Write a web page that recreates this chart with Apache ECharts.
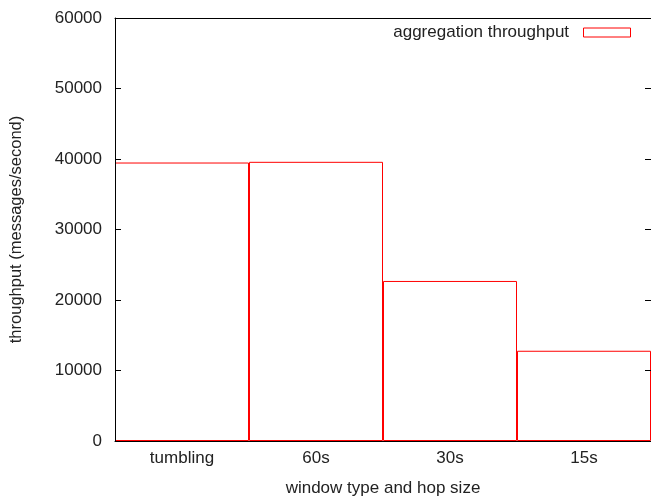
<!DOCTYPE html>
<html><head><meta charset="utf-8">
<script src="https://cdn.jsdelivr.net/npm/echarts@6/dist/echarts.min.js"></script>
<style>html,body{margin:0;padding:0;background:#fff}#c{width:651px;height:502px}</style>
</head><body><div id="c"></div>
<script>
const categories = ['tumbling', '60s', '30s', '15s'];
const throughput = [39500, 39600, 22700, 12800];
const seriesName = 'aggregation throughput';
const yTicks = [0, 10000, 20000, 30000, 40000, 50000, 60000];

const font = 'Liberation Sans, Arial, sans-serif';
const txt = '#222';
const chart = echarts.init(document.getElementById('c'), null, {renderer: 'canvas'});
chart.setOption({
  animation: false,
  backgroundColor: '#fff',
  grid: {left: 114, right: -1, top: 18, bottom: 56.5, show: false},
  legend: {
    data: [seriesName], right: 20, top: 24, align: 'right', padding: 0,
    itemWidth: 47, itemHeight: 9, itemGap: 10,
    icon: 'rect',
    formatter: n => n + '\u00a0\u00a0',
    itemStyle: {color: 'transparent', borderColor: '#ff0000', borderWidth: 1},
    textStyle: {fontFamily: font, fontSize: 17, color: txt}
  },
  xAxis: [{
    type: 'category', data: categories, boundaryGap: true, z: 10,
    name: 'window type and hop size', nameLocation: 'middle', nameGap: 39,
    nameTextStyle: {fontFamily: font, fontSize: 17, color: txt},
    axisLine: {onZero: false, lineStyle: {color: '#000', width: 1}},
    axisTick: {inside: true, alignWithLabel: true, length: 6, lineStyle: {color: '#000'}},
    axisLabel: {fontFamily: font, fontSize: 17, color: txt, margin: 9},
    splitLine: {show: false}
  }, {
    type: 'category', data: categories, position: 'top', boundaryGap: true, z: 10,
    axisLine: {onZero: false, lineStyle: {color: '#000', width: 1}},
    axisTick: {inside: true, alignWithLabel: true, length: 6, lineStyle: {color: '#000'}},
    axisLabel: {show: false}, splitLine: {show: false}
  }],
  yAxis: [{
    type: 'value', min: yTicks[0], max: yTicks[yTicks.length-1], interval: 10000, z: 10,
    name: 'throughput (messages/second)', nameLocation: 'middle', nameGap: 90, nameRotate: 90,
    nameTextStyle: {fontFamily: font, fontSize: 16.5, color: txt},
    axisLine: {show: true, onZero: false, lineStyle: {color: '#000', width: 1}},
    axisTick: {show: true, inside: true, length: 6, lineStyle: {color: '#000'}},
    axisLabel: {fontFamily: font, fontSize: 17, color: txt, margin: 13, formatter: v => String(v)},
    splitLine: {show: false}
  }, {
    type: 'value', position: 'right', min: yTicks[0], max: yTicks[yTicks.length-1], interval: 10000, z: 10,
    axisLine: {show: true, onZero: false, lineStyle: {color: '#000', width: 1}},
    axisTick: {show: true, inside: true, length: 6, lineStyle: {color: '#000'}},
    axisLabel: {show: false}, splitLine: {show: false}
  }],
  series: [{
    name: seriesName, type: 'bar', data: throughput,
    barWidth: '100%', barGap: '0%', barCategoryGap: '0%',
    itemStyle: {color: 'transparent', borderColor: '#ff0000', borderWidth: 1}
  }]
});
</script></body></html>
